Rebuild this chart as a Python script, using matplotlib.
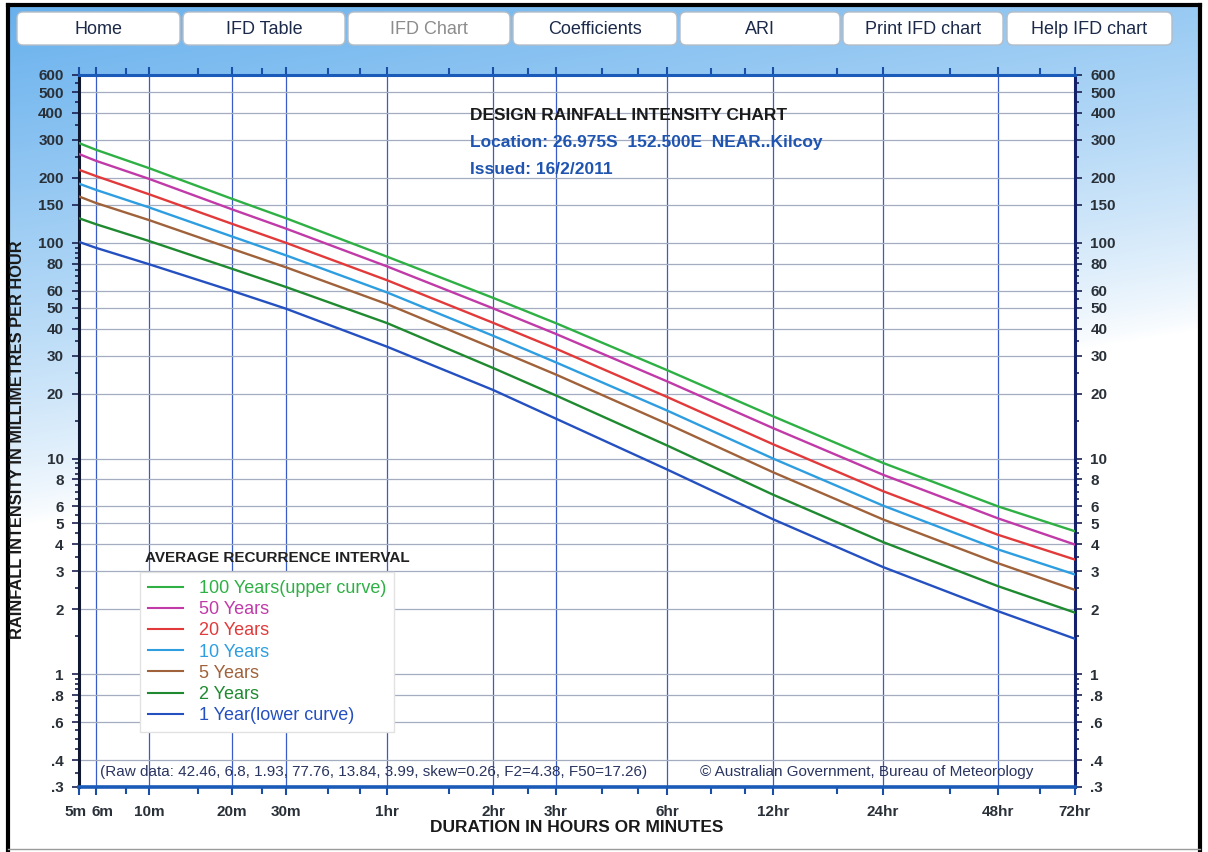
import numpy as np
import matplotlib.pyplot as plt
import matplotlib.transforms as mtransforms
from matplotlib.patches import FancyBboxPatch
from matplotlib.ticker import FixedLocator, FixedFormatter, LogLocator, NullFormatter

plt.rcParams['font.family'] = ['Liberation Sans', 'DejaVu Sans']

# durations in minutes
durations = [5, 6, 10, 20, 30, 60, 120, 180, 360, 720, 1440, 2880, 4320]

# rainfall intensity (mm/h)
ari_100 = [290, 270, 222, 160, 130, 86.3, 55.6, 42.4, 25.7, 15.7, 9.54, 6.0, 4.6]
ari_50 = [258, 240, 198, 143, 116.4, 77.76, 49.7, 37.8, 22.8, 13.84, 8.41, 5.28, 3.99]
ari_20 = [218, 204, 168, 122.5, 100, 67.1, 42.6, 32.3, 19.3, 11.65, 7.06, 4.43, 3.4]
ari_10 = [188, 176, 146, 107, 87.5, 58.9, 37.1, 27.9, 16.7, 10.0, 6.05, 3.79, 2.9]
ari_5 = [164, 153, 127.5, 93.8, 77.0, 52.0, 32.5, 24.5, 14.5, 8.64, 5.22, 3.27, 2.46]
ari_2 = [130, 122, 102, 75.8, 62.4, 42.46, 26.3, 19.6, 11.5, 6.8, 4.1, 2.56, 1.93]
ari_1 = [101, 94.8, 79.6, 59.9, 49.5, 33.0, 20.8, 15.3, 8.9, 5.23, 3.14, 1.96, 1.46]

series = [ari_100, ari_50, ari_20, ari_10, ari_5, ari_2, ari_1]
labels = ['100 Years(upper curve)', '50 Years', '20 Years', '10 Years',
          '5 Years', '2 Years', '1 Year(lower curve)']
colors = ['#2fb045', '#c03aa8', '#e23a3a', '#2e9ee0', '#a0623a', '#1f8a30', '#2450c0']

x_major = [5, 6, 10, 20, 30, 60, 120, 180, 360, 720, 1440, 2880, 4320]
x_major_labels = ['5m', '6m', '10m', '20m', '30m', '1hr', '2hr', '3hr', '6hr',
                  '12hr', '24hr', '48hr', '72hr']
x_minor = [8, 15, 25, 40, 50, 90, 150, 240, 300, 480, 600, 1080, 2160, 3600]

y_ticks = [600, 500, 400, 300, 200, 150, 100, 80, 60, 50, 40, 30, 20,
           10, 8, 6, 5, 4, 3, 2, 1, 0.8, 0.6, 0.4, 0.3]
y_tick_labels = ['600', '500', '400', '300', '200', '150', '100', '80', '60',
                 '50', '40', '30', '20', '10', '8', '6', '5', '4', '3', '2',
                 '1', '.8', '.6', '.4', '.3']

# the duration axis of the chart is not a plain log scale; anchor it on the labelled ticks
scale_px = np.array([79, 96, 149, 232, 286, 387, 493, 556, 667, 773, 883, 998, 1075], float)
scale_lg = np.log10(np.array(x_major, float))


def fwd(d):
    lg = np.log10(np.clip(np.asarray(d, float), 1e-6, None))
    out = np.interp(lg, scale_lg, scale_px)
    s0 = (scale_px[1] - scale_px[0]) / (scale_lg[1] - scale_lg[0])
    s1 = (scale_px[-1] - scale_px[-2]) / (scale_lg[-1] - scale_lg[-2])
    out = np.where(lg < scale_lg[0], scale_px[0] + (lg - scale_lg[0]) * s0, out)
    out = np.where(lg > scale_lg[-1], scale_px[-1] + (lg - scale_lg[-1]) * s1, out)
    return out


def inv(p):
    p = np.asarray(p, float)
    lg = np.interp(p, scale_px, scale_lg)
    s0 = (scale_lg[1] - scale_lg[0]) / (scale_px[1] - scale_px[0])
    s1 = (scale_lg[-1] - scale_lg[-2]) / (scale_px[-1] - scale_px[-2])
    lg = np.where(p < scale_px[0], scale_lg[0] + (p - scale_px[0]) * s0, lg)
    lg = np.where(p > scale_px[-1], scale_lg[-1] + (p - scale_px[-1]) * s1, lg)
    return 10 ** lg


W, H = 1208, 852
fig = plt.figure(figsize=(W / 100, H / 100), dpi=100)


def fx(x):
    return x / W


def fy(y):
    return 1 - y / H


# background panel
bg = fig.add_axes([0, 0, 1, 1])
yy, xx = np.mgrid[0:H, 0:W]
b = np.clip(1 - (yy / H) / 0.62 - 0.38 * (xx / W), 0, 1) ** 0.8
blue = np.array([0.40, 0.69, 0.93])
img = 1 - b[..., None] * (1 - blue)
img[(xx < 8) | (yy < 5) | (xx > 1200)] = 1.0
bg.imshow(img, extent=[0, W, H, 0], aspect='auto', interpolation='bilinear')
bg.set_xlim(0, W)
bg.set_ylim(H, 0)
bg.axis('off')
bg.plot([8, 8], [5, H], color='black', lw=3)
bg.plot([8, 1200], [5, 5], color='black', lw=3)
bg.plot([1200, 1200], [5, H], color='black', lw=3)
bg.plot([8, 1200], [849, 849], color='#9a9a9a', lw=1)

buttons = [('Home', 17, 180), ('IFD Table', 183, 345), ('IFD Chart', 348, 510),
           ('Coefficients', 513, 677), ('ARI', 680, 840),
           ('Print IFD chart', 843, 1003), ('Help IFD chart', 1007, 1172)]
for name, x0, x1 in buttons:
    bg.add_patch(FancyBboxPatch((x0, 12), x1 - x0, 33,
                                boxstyle='round,pad=0,rounding_size=6',
                                fc='white', ec='#b4bcc6', lw=1))
    bg.text((x0 + x1) / 2, 29, name, ha='center', va='center', fontsize=13,
            color='#8c8c8c' if name == 'IFD Chart' else '#1c2a4a')

# chart
ax = fig.add_axes([fx(79), fy(787), fx(1075) - fx(79), (787 - 75) / H])
ax.set_facecolor('white')
ax.set_xscale('function', functions=(fwd, inv))
ax.set_yscale('log')
ax.set_xlim(5, 4320)
ax.set_ylim(0.3, 600)

for vals, lab, c in zip(series, labels, colors):
    ax.plot(durations, vals, color=c, lw=1.7, label=lab, zorder=3)

ax.xaxis.set_major_locator(FixedLocator(x_major))
ax.xaxis.set_major_formatter(FixedFormatter(x_major_labels))
ax.xaxis.set_minor_locator(FixedLocator(x_minor))
ax.xaxis.set_minor_formatter(NullFormatter())
ax.yaxis.set_major_locator(FixedLocator(y_ticks))
ax.yaxis.set_major_formatter(FixedFormatter(y_tick_labels))
ax.yaxis.set_minor_locator(LogLocator(base=10, subs=np.arange(1, 10, 0.5), numticks=50))
ax.yaxis.set_minor_formatter(NullFormatter())

ax.tick_params(axis='x', which='both', top=True, bottom=True, direction='out',
               color='#1a4fa8', width=1.5)
ax.tick_params(axis='x', which='major', length=6, pad=7, labelsize=11,
               labelcolor='#2a3038')
ax.tick_params(axis='x', which='minor', length=5)
ax.tick_params(axis='y', which='both', left=True, right=True, labelleft=True,
               labelright=True, direction='out', color='#1a2050', width=1.2)
ax.tick_params(axis='y', which='major', length=5, pad=6, labelsize=11,
               labelcolor='#2a3038')
ax.tick_params(axis='y', which='minor', length=3)

fig.canvas.draw()
for t in ax.get_xticklabels():
    t.set_fontweight('bold')
for tk in ax.yaxis.get_major_ticks():
    tk.label1.set_fontweight('bold')
    tk.label2.set_fontweight('bold')

# keep "5m" and "6m" from running into each other
xt = ax.get_xticklabels()
xt[0].set_transform(xt[0].get_transform() + mtransforms.ScaledTranslation(-3 / 100, 0, fig.dpi_scale_trans))
xt[1].set_transform(xt[1].get_transform() + mtransforms.ScaledTranslation(7 / 100, 0, fig.dpi_scale_trans))

ax.grid(True, axis='x', which='major', color='#3a5cc8', lw=0.9, zorder=1)
ax.grid(True, axis='y', which='major', color='#a4acc0', lw=0.9, zorder=1)

ax.spines['left'].set_color('#101830')
ax.spines['left'].set_linewidth(2.2)
ax.spines['right'].set_color('#14206a')
ax.spines['right'].set_linewidth(2.2)
ax.spines['top'].set_color('#1a5ab8')
ax.spines['top'].set_linewidth(2.2)
ax.spines['bottom'].set_color('#1a5ab8')
ax.spines['bottom'].set_linewidth(2.6)

leg = ax.legend(loc='upper left', bbox_to_anchor=(fx(140), fy(572)),
                bbox_transform=fig.transFigure, fontsize=13, labelcolor='linecolor',
                handlelength=1.95, handletextpad=0.85, labelspacing=0.23,
                borderpad=0.45, borderaxespad=0, framealpha=1, fancybox=False,
                edgecolor='#e2e2e2')
for line in leg.get_lines():
    line.set_linewidth(1.5)

fig.text(fx(145), fy(558), 'AVERAGE RECURRENCE INTERVAL', fontsize=11,
         fontweight='bold', color='#202020', ha='left', va='center')

fig.text(fx(470), fy(115), 'DESIGN RAINFALL INTENSITY CHART', fontsize=12.5,
         fontweight='bold', color='#1a1a1a', ha='left', va='center')
fig.text(fx(470), fy(142), 'Location: 26.975S  152.500E  NEAR..Kilcoy', fontsize=12.5,
         fontweight='bold', color='#1f55b0', ha='left', va='center')
fig.text(fx(470), fy(170), 'Issued: 16/2/2011', fontsize=12.5,
         fontweight='bold', color='#1f55b0', ha='left', va='center')

fig.text(fx(100), fy(772),
         '(Raw data: 42.46, 6.8, 1.93, 77.76, 13.84, 3.99, skew=0.26, F2=4.38, F50=17.26)',
         fontsize=11, color='#2a3560', ha='left', va='center')
fig.text(fx(700), fy(772), '\u00a9 Australian Government, Bureau of Meteorology',
         fontsize=11, color='#2a3560', ha='left', va='center')

fig.text(fx(18), fy(440), 'RAINFALL INTENSITY IN MILLIMETRES PER HOUR', rotation=90,
         fontsize=11.8, fontweight='bold', color='#1a1a1a', ha='center', va='center')
fig.text(fx(577), fy(828), 'DURATION IN HOURS OR MINUTES', fontsize=12.5,
         fontweight='bold', color='#1a1a1a', ha='center', va='center')

fig.savefig('out.png', dpi=100)
